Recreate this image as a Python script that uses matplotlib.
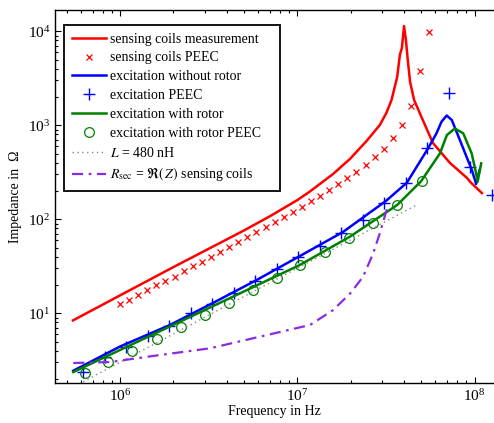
import numpy as np
import matplotlib
matplotlib.use("Agg")
import matplotlib.pyplot as plt
from matplotlib.ticker import LogLocator, NullFormatter
from matplotlib.patches import Rectangle

plt.rcParams['font.family'] = ['Liberation Serif', 'DejaVu Serif']
plt.rcParams['mathtext.fontset'] = 'stix'

# ---- sensing coils measurement (red line) ----
f_sens_meas = [5.43e5, 1.0e6, 2.0e6, 5.0e6, 7.02e6, 1.0e7, 1.18e7, 1.59e7, 1.98e7, 2.46e7,
               2.92e7, 3.18e7, 3.40e7, 3.66e7, 3.79e7, 3.89e7, 4.0e7, 4.1e7, 4.2e7, 4.33e7,
               4.56e7, 4.95e7, 5.82e7, 7.27e7, 9.07e7, 9.47e7, 1.10e8]
z_sens_meas = [8.4, 15.5, 31.0, 76.0, 108, 160, 198, 303, 438, 681,
               1007, 1352, 1858, 3266, 5600, 6640, 11370, 8070, 4950, 2885,
               1858, 1300, 649, 397, 275, 249, 190]

# ---- sensing coils PEEC (red x) ----
f_sens_peec = [1.000e6, 1.125e6, 1.267e6, 1.425e6, 1.604e6, 1.805e6, 2.032e6, 2.286e6,
               2.573e6, 2.896e6, 3.259e6, 3.667e6, 4.127e6, 4.645e6, 5.227e6, 5.883e6,
               6.620e6, 7.450e6, 8.385e6, 9.436e6, 1.062e7, 1.195e7, 1.345e7, 1.514e7,
               1.703e7, 1.917e7, 2.157e7, 2.428e7, 2.732e7, 3.075e7, 3.461e7, 3.894e7,
               4.383e7, 4.932e7, 5.551e7]
z_sens_peec = [12.6, 14.0, 15.7, 17.7, 19.8, 22.1, 24.6, 28.2, 31.5, 35.1, 39.7, 44.9,
               50.7, 57.3, 64.8, 73.3, 82.8, 93.6, 105.8, 119.6, 136.8, 156.5, 179, 205,
               237, 275, 318, 378, 460, 566, 732, 1007, 1604, 3783, 9830]

# ---- excitation without rotor (blue line) ----
f_exc = [5.45e5, 1.0e6, 1.91e6, 3.35e6, 5.9e6, 1.035e7, 1.81e7, 3.16e7, 4.15e7, 5.47e7,
         6.1e7, 6.51e7, 6.96e7, 7.44e7, 8.26e7, 9.02e7, 9.65e7, 1.02e8, 1.068e8]
z_exc = [2.45, 4.43, 7.5, 12.9, 22.6, 40.7, 73.3, 156.6, 245, 569,
         822, 1092, 1271, 1138, 698, 460, 335, 238, 335]

# ---- excitation PEEC (blue +) ----
f_exc_peec = [6.21e5, 8.21e5, 1.085e6, 1.435e6, 1.897e6, 2.508e6, 3.316e6, 4.384e6,
              5.796e6, 7.66e6, 1.013e7, 1.34e7, 1.77e7, 2.34e7, 3.097e7, 4.094e7,
              5.41e7, 7.15e7, 9.46e7, 1.25e8]
z_exc_peec = [2.39, 3.43, 4.41, 5.69, 7.41, 10.0, 12.56, 16.56, 22.1, 29.4, 39.4, 52.4,
              71.0, 98.4, 148, 245, 569, 2188, 356, 181]

# ---- excitation with rotor (green line) ----
f_rot = [5.45e5, 1.0e6, 2.83e6, 1.035e7, 1.98e7, 3.66e7, 5.0e7, 6.38e7, 6.98e7, 7.74e7,
         8.63e7, 9.63e7, 1.02e8, 1.04e8, 1.09e8]
z_rot = [2.37, 4.07, 10.27, 32.7, 65.3, 142, 255, 503, 788, 925,
         822, 503, 309, 251, 394]

# ---- excitation with rotor PEEC (green o) ----
f_rot_peec = [6.35e5, 8.59e5, 1.164e6, 1.611e6, 2.199e6, 3.016e6, 4.12e6, 5.60e6,
              7.65e6, 1.042e7, 1.433e7, 1.964e7, 2.684e7, 3.635e7, 5.03e7]
z_rot_peec = [2.30, 3.06, 4.00, 5.29, 7.20, 9.59, 12.78, 17.70, 23.9, 32.6, 45.2,
              63.7, 92.0, 141.9, 255]

# ---- L = 480 nH reference (grey dotted) ----
L_value = 480e-9
f_L = [6.2e5, 4.8e7]

# ---- R_sec (purple dash-dot) ----
f_rsec = [5.45e5, 8.78e5, 1.68e6, 3.21e6, 6.15e6, 1.18e7, 1.59e7, 1.99e7, 2.35e7,
          2.68e7, 2.92e7, 3.2e7]
z_rsec = [2.96, 3.03, 3.60, 4.24, 5.64, 7.51, 10.8, 16.3, 24.5, 43.4, 71.0, 128]

W, H = 494, 423
fig = plt.figure(figsize=(W / 100, H / 100), dpi=100)
ax = fig.add_axes([55 / W, (H - 383) / H, 439 / W, 373 / H])

ax.plot(f_sens_meas, z_sens_meas, color='#ff0000', lw=1.8, label='sensing coils measurement')
ax.plot(f_sens_peec, z_sens_peec, ls='none', marker='x', color='#ff0000', ms=5, mew=0.9,
        label='sensing coils PEEC')
ax.plot(f_exc, z_exc, color='#0000ff', lw=1.8, label='excitation without rotor')
ax.plot(f_exc_peec, z_exc_peec, ls='none', marker='+', color='#0000ff', ms=8, mew=1.0,
        label='excitation PEEC')
ax.plot(f_rot, z_rot, color='#008000', lw=1.8, label='excitation with rotor')
ax.plot(f_rot_peec, z_rot_peec, ls='none', marker='o', mfc='none', mec='#008000', ms=7,
        mew=0.9, label='excitation with rotor PEEC')
fL = np.array(f_L)
ax.plot(fL, 2 * np.pi * fL * L_value, color='#888888', ls=(0, (1, 2.5)), lw=1.0,
        label='$L$ = 480 nH')
ax.plot(f_rsec, z_rsec, color='#8a2be2', ls=(0, (5, 2.5, 1.2, 2.5)), lw=1.6,
        label=r'$R_{\mathrm{sec}}$ = $\Re(\,Z)$ sensing coils')

ax.set_xscale('log')
ax.set_yscale('log')
ax.set_xlim(4.30e5, 1.287e8)
ax.set_ylim(1.814, 16850)

ax.xaxis.set_major_locator(LogLocator(base=10, numticks=10))
ax.yaxis.set_major_locator(LogLocator(base=10, numticks=10))
ax.xaxis.set_minor_locator(LogLocator(base=10, subs=np.arange(2, 10), numticks=20))
ax.yaxis.set_minor_locator(LogLocator(base=10, subs=np.arange(2, 10), numticks=20))
ax.xaxis.set_minor_formatter(NullFormatter())
ax.yaxis.set_minor_formatter(NullFormatter())

ax.tick_params(which='both', direction='in', top=True, right=False, labelsize=11,
               width=0.8)
ax.tick_params(which='major', length=4)
ax.tick_params(which='minor', length=2)
ax.spines['right'].set_visible(False)
for s in ['left', 'bottom', 'top']:
    ax.spines[s].set_linewidth(1.0)

ax.set_xlabel('Frequency in Hz', fontsize=10, labelpad=1)
ax.set_ylabel('Impedance in  Ω', fontsize=10, labelpad=4)

# legend box (MATLAB-style, extra right padding)
bx0, bx1 = (64 - 55) / 439, (280 - 55) / 439
by0, by1 = (383 - 190.7) / 373, (383 - 25) / 373
ax.add_patch(Rectangle((bx0, by0), bx1 - bx0, by1 - by0, transform=ax.transAxes,
                       facecolor='white', edgecolor='black', lw=1.3, zorder=4))
leg = ax.legend(loc='upper left', bbox_to_anchor=(bx0, by1),
                borderaxespad=0, fontsize=10, handlelength=2.5, handletextpad=0.25,
                borderpad=0.55, labelspacing=0.42, frameon=False, numpoints=1)
leg.set_zorder(5)

fig.savefig('out.png', dpi=100)
